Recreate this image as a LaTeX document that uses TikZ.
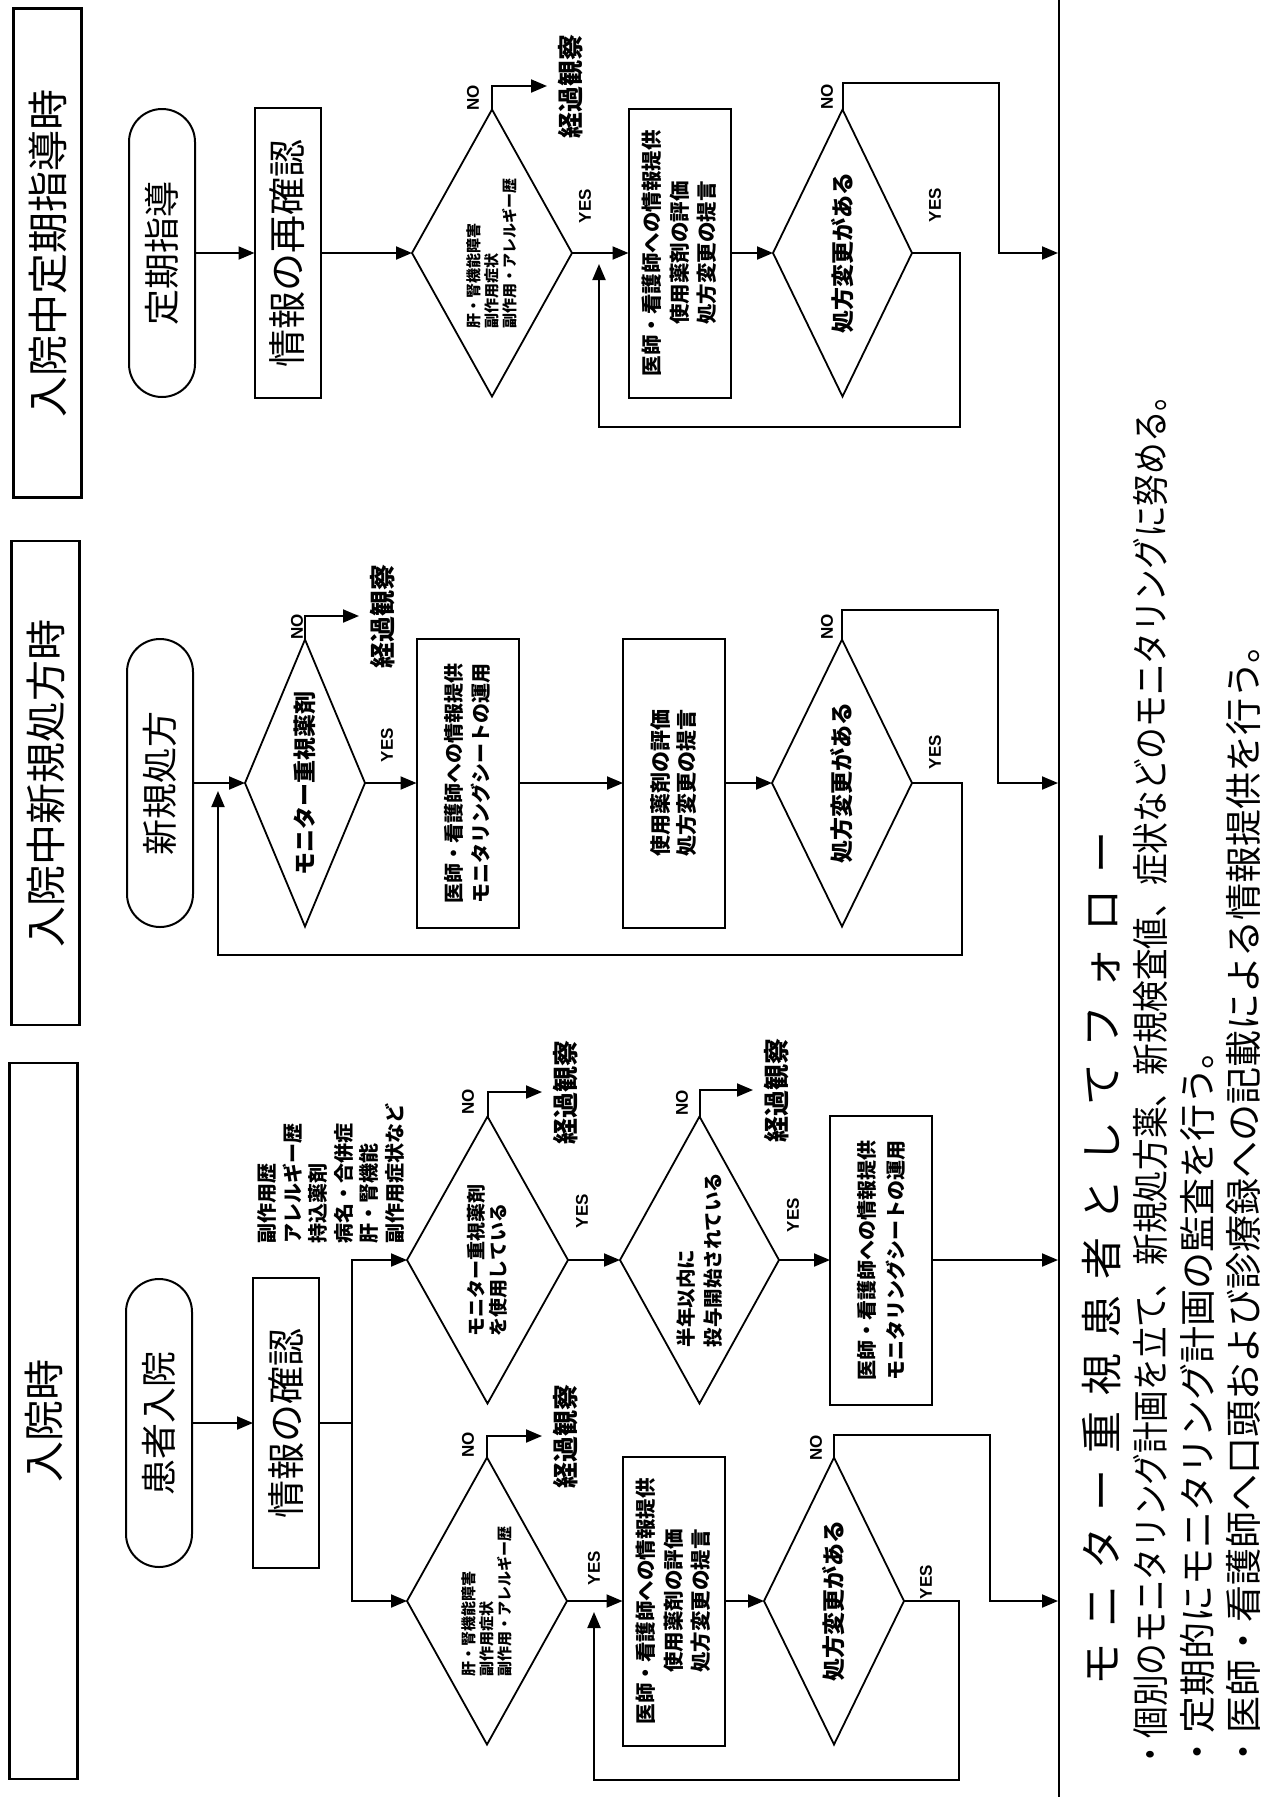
\documentclass[tikz,border=0pt]{standalone}
\usepackage{fontspec}
\setmainfont{Noto Sans CJK JP}
\newfontfamily\latfont{Liberation Sans}
\usetikzlibrary{shapes.geometric,arrows.meta}
\newcommand\hspc{\hspace{16pt}}
\begin{document}
\begin{tikzpicture}[x=1pt,y=-1pt,
  every node/.style={rotate=90, inner sep=0pt, outer sep=0pt},
  ln/.style={line width=2pt},
  arr/.style={line width=2pt, -{Triangle[length=16pt,width=13pt]}},
  tbox/.style={draw, line width=2.3pt, minimum width=#1, minimum height=68pt, font=\fontsize{41}{45}\selectfont},
  pill/.style={draw, line width=2pt, rounded corners=33pt, minimum width=288pt, minimum height=66pt, font=\fontsize{36}{40}\selectfont},
  bbox/.style={draw, line width=2pt, minimum width=290pt, minimum height=66pt, font=\fontsize{38}{42}\selectfont},
  sbox/.style={draw, line width=2pt, minimum width=289pt, minimum height=102pt},
  dia/.style={draw, line width=1.8pt, diamond, shape aspect=2.2, minimum width=287pt, minimum height=#1},
  kk/.style={anchor=north, font=\bfseries\fontsize{26}{30}\selectfont},
  yn/.style={font=\latfont\bfseries\fontsize{17}{20}\selectfont},
  bul/.style={anchor=west, font=\fontsize{37}{40}\selectfont}
]
\fill[white] (0,0) rectangle (1264,1797);
\useasboundingbox (0,0) rectangle (1264,1797);

% ---------- titles ----------
\node[tbox=489pt] (t3) at (47.5,253) {入院中定期指導時};
\node[tbox=484pt] (t2) at (45.5,783) {入院中新規処方時};
\node[tbox=716pt] (t1) at (43.5,1421) {入院時};

% ---------- column 3 : 定期指導 ----------
\node[pill] (p3) at (162,253) {定期指導};
\node[bbox] (b3a) at (287.5,253) {情報の再確認};
\node[dia=160pt, align=left, font=\bfseries\fontsize{15}{18}\selectfont] (d3a) at (492,253) {肝・腎機能障害\\副作用症状\\副作用・アレルギー歴};
\node[sbox, align=center, font=\bfseries\fontsize{20.5}{27.5}\selectfont] (b3b) at (679.5,253) {医師・看護師への情報提供\\使用薬剤の評価\\処方変更の提言};
\node[dia=139pt, font=\bfseries\fontsize{23}{26}\selectfont] (d3b) at (842.5,253) {処方変更がある};
\node[kk] (k3) at (558,86) {経過観察};
\node[yn] (n3a) at (473,98) {NO};
\node[yn] (y3a) at (585,206) {YES};
\node[yn] (n3b) at (827,97) {NO};
\node[yn] (y3b) at (935,205) {YES};

% ---------- column 2 : 新規処方 ----------
\node[pill] (p2) at (160,783) {新規処方};
\node[dia=120pt, font=\bfseries\fontsize{23}{26}\selectfont] (d2a) at (305,783) {モニター重視薬剤};
\node[sbox, align=left, font=\bfseries\fontsize{20}{27}\selectfont] (b2a) at (467.5,783) {医師・看護師への情報提供\\モニタリングシートの運用};
\node[sbox, align=center, font=\bfseries\fontsize{21}{26}\selectfont] (b2b) at (674,783) {使用薬剤の評価\\処方変更の提言};
\node[dia=140pt, font=\bfseries\fontsize{23}{26}\selectfont] (d2b) at (842,783) {処方変更がある};
\node[kk] (k2) at (370,616) {経過観察};
\node[yn] (n2a) at (297,627) {NO};
\node[yn] (y2a) at (387,745) {YES};
\node[yn] (n2b) at (827,627) {NO};
\node[yn] (y2b) at (935,752) {YES};

% ---------- column 1 : 入院時 ----------
\node[pill] (p1) at (159,1423) {患者入院};
\node[bbox] (b1a) at (286,1423) {情報の確認};
\node[anchor=west, align=left, font=\bfseries\fontsize{20}{25.6}\selectfont] (ann) at (331,1243) {副作用歴\\アレルギー歴\\持込薬剤\\病名・合併症\\肝・腎機能\\副作用症状など};
\node[dia=161pt, align=left, font=\bfseries\fontsize{19}{22}\selectfont] (d1a) at (487.5,1260) {モニター重視薬剤\\を使用している};
\node[dia=159pt, align=left, font=\bfseries\fontsize{19.5}{27}\selectfont] (d1c) at (699.5,1260) {半年以内に\\投与開始されている};
\node[sbox, align=left, font=\bfseries\fontsize{20}{29}\selectfont] (b1d) at (881,1260) {医師・看護師への情報提供\\モニタリングシートの運用};
\node[dia=160pt, align=left, font=\bfseries\fontsize{15}{18}\selectfont] (d1b) at (487,1601) {肝・腎機能障害\\副作用症状\\副作用・アレルギー歴};
\node[sbox, align=center, font=\bfseries\fontsize{20.5}{27.5}\selectfont] (b1e) at (673.5,1601) {医師・看護師への情報提供\\使用薬剤の評価\\処方変更の提言};
\node[dia=140pt, font=\bfseries\fontsize{23}{26}\selectfont] (d1f) at (834,1601) {処方変更がある};
\node[kk] (k1a) at (553,1092) {経過観察};
\node[kk] (k1c) at (764,1090) {経過観察};
\node[kk] (k1b) at (553,1436) {経過観察};
\node[yn] (n1a) at (468,1102) {NO};
\node[yn] (y1a) at (582,1211) {YES};
\node[yn] (n1c) at (682,1103) {NO};
\node[yn] (y1c) at (793,1215) {YES};
\node[yn] (n1b) at (468,1445) {NO};
\node[yn] (y1b) at (594,1568) {YES};
\node[yn] (n1f) at (816,1448) {NO};
\node[yn] (y1f) at (926,1582) {YES};

% ---------- separator and follow-up text ----------
\coordinate (sepT) at (1059,0);
\coordinate (sepB) at (1059,1797);
\draw[ln] (sepT) -- (sepB);
\coordinate (s3) at (1058,253);
\coordinate (s2) at (1058,783);
\coordinate (s1a) at (1058,1260);
\coordinate (s1b) at (1058,1601);

\node[anchor=west, font=\fontsize{42}{44}\selectfont] (hd) at (1102,1685) {モ\hspc ニ\hspc タ\hspc ー\hspc 重\hspc 視\hspc 患\hspc 者\hspc と\hspc し\hspc て\hspc フ\hspc ォ\hspc ロ\hspc ー};
\node[bul] (bl1) at (1150,1770) {\scalebox{0.855}[1]{・個別のモニタリング計画を立て、新規処方薬、新規検査値、症状などのモニタリングに努める。}};
\node[bul] (bl2) at (1197,1770) {・定期的にモニタリング計画の監査を行う。};
\node[bul] (bl3) at (1243,1770) {・医師・看護師へ口頭および診療録への記載による情報提供を行う。};

% ---------- connectors column 3 ----------
\draw[arr] (p3.south) -- (b3a.north);
\draw[arr] (b3a.south) -- (d3a.north);
\draw[arr, shorten >=11pt] (d3a.east) |- (k3.north);
\draw[arr] (d3a.south) -- (b3b.north);
\draw[arr] (b3b.south) -- (d3b.north);
\draw[arr] (d3b.east) |- (999,83) |- (s3);
\coordinate (r3) at (599,264);
\draw[arr] (d3b.south) -| (960,427) -| (r3);

% ---------- connectors column 2 ----------
\draw[arr] (p2.south) -- (d2a.north);
\draw[arr, shorten >=11pt] (d2a.east) |- (k2.north);
\draw[arr] (d2a.south) -- (b2a.north);
\draw[arr] (b2a.south) -- (b2b.north);
\draw[arr] (b2b.south) -- (d2b.north);
\draw[arr] (d2b.east) |- (998,610) |- (s2);
\coordinate (r2) at (218,791);
\draw[arr] (d2b.south) -| (962,955) -| (r2);

% ---------- connectors column 1 ----------
\coordinate (tr) at (352,1423);
\draw[arr] (p1.south) -- (b1a.north);
\draw[ln] (b1a.south) -- (tr);
\draw[arr] (tr) |- (d1a.north);
\draw[arr] (tr) |- (d1b.north);
\draw[arr, shorten >=11pt] (d1a.east) |- (k1a.north);
\draw[arr] (d1a.south) -- (d1c.north);
\draw[arr, shorten >=11pt] (d1c.east) |- (k1c.north);
\draw[arr] (d1c.south) -- (b1d.north);
\draw[arr] (b1d.south) -- (s1a);
\draw[arr, shorten >=11pt] (d1b.east) |- (k1b.north);
\draw[arr] (d1b.south) -- (b1e.north);
\draw[arr] (b1e.south) -- (d1f.north);
\draw[arr] (d1f.east) |- (990,1435) |- (s1b);
\coordinate (r1) at (594,1612);
\draw[arr] (d1f.south) -| (959,1780) -| (r1);
\end{tikzpicture}
\end{document}
